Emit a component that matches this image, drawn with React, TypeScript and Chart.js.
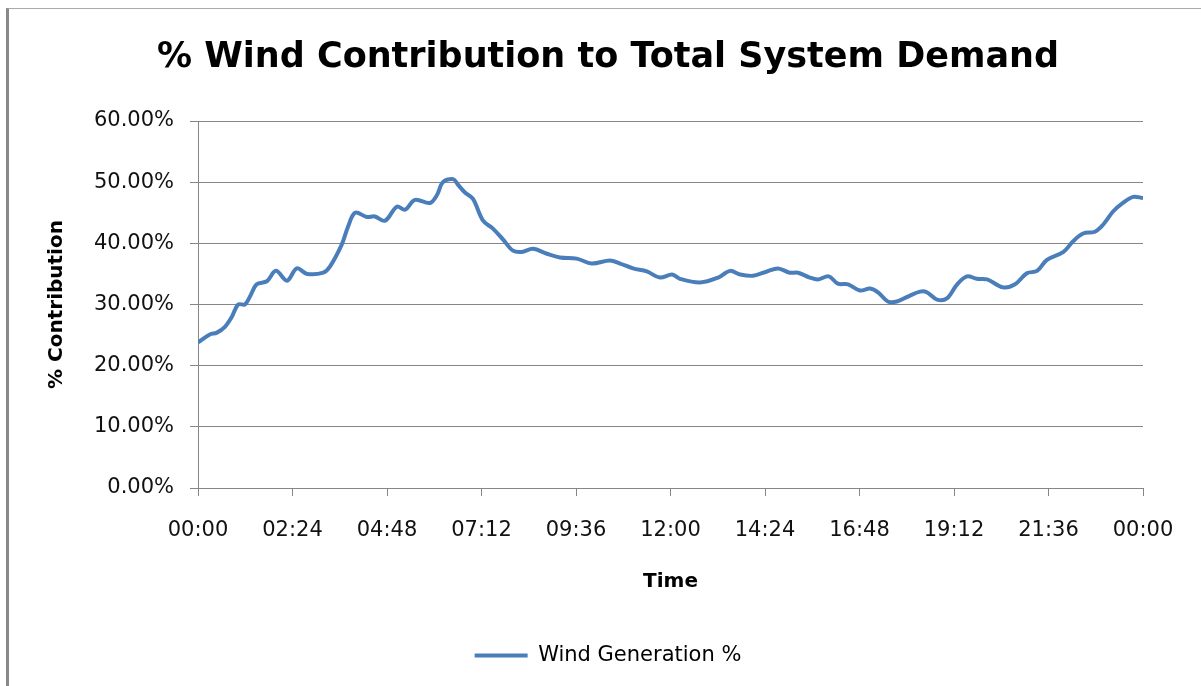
import React, { useEffect, useRef } from "react";
import { Chart, registerables } from "chart.js";

Chart.register(...registerables);

const TITLE = "% Wind Contribution to Total System Demand";
const X_TITLE = "Time";
const Y_TITLE = "% Contribution";
const SERIES_NAME = "Wind Generation %";

// time of day in hours
const TIME_HOURS = [
  0.0, 0.3, 0.48, 0.69, 0.86, 1.02, 1.19, 1.32, 1.49, 1.75, 1.98, 2.26, 2.51, 2.77, 3.18, 3.35,
  3.65, 3.81, 3.99, 4.29, 4.49, 4.75, 5.05, 5.26, 5.51, 5.89, 6.07, 6.22, 6.48, 6.6, 6.78, 6.98,
  7.24, 7.49, 7.75, 8.0, 8.22, 8.51, 8.86, 9.19, 9.62, 10.0, 10.46, 10.72, 11.05, 11.4, 11.73,
  12.04, 12.24, 12.75, 13.21, 13.51, 13.77, 14.1, 14.45, 14.73, 15.03, 15.24, 15.54, 15.75, 16.02,
  16.25, 16.51, 16.81, 17.07, 17.27, 17.52, 17.75, 18.03, 18.34, 18.51, 18.77, 19.02, 19.28, 19.53,
  19.78, 20.04, 20.45, 20.75, 21.05, 21.31, 21.56, 21.98, 22.22, 22.48, 22.78, 22.98, 23.24, 23.49,
  23.75, 24.0,
];

// wind generation as % of total system demand
const WIND_PCT = [
  23.8, 25.1, 25.4, 26.4, 28.0, 30.0, 30.0, 31.3, 33.3, 33.8, 35.5, 33.9, 35.9, 35.0, 35.2, 36.2,
  39.8, 42.7, 45.0, 44.3, 44.4, 43.7, 46.0, 45.5, 47.1, 46.6, 47.9, 50.0, 50.5, 49.6, 48.3, 47.3,
  43.7, 42.4, 40.6, 38.8, 38.6, 39.1, 38.3, 37.7, 37.5, 36.7, 37.2, 36.7, 35.9, 35.4, 34.4,
  34.9, 34.2, 33.6, 34.4, 35.5, 34.9, 34.7, 35.4, 35.9, 35.2, 35.2, 34.4, 34.1, 34.6,
  33.4, 33.3, 32.3, 32.6, 32.0, 30.5, 30.5, 31.3, 32.1, 32.0, 30.8, 31.0, 33.3, 34.6,
  34.2, 34.1, 32.8, 33.3, 35.1, 35.5, 37.3, 38.6, 40.3, 41.6, 41.9, 43.0, 45.2, 46.6,
  47.6, 47.4,
];

const X_MIN_MIN = 0;
const X_MAX_MIN = 1440;
const X_STEP_MIN = 144;
const Y_MIN = 0;
const Y_MAX = 60;
const Y_STEP = 10;

const LINE_COLOR = "#4A7EBB";
const GRID_COLOR = "#868686";
const FONT = "'DejaVu Sans', sans-serif";

function fmtTime(v: number): string {
  const m = Math.round(v) % 1440;
  const h = Math.floor(m / 60);
  const mm = m % 60;
  return String(h).padStart(2, "0") + ":" + String(mm).padStart(2, "0");
}

export default function App() {
  const ref = useRef<HTMLCanvasElement | null>(null);

  useEffect(() => {
    if (!ref.current) return;
    const data = TIME_HOURS.map((t, i) => ({ x: t * 60, y: WIND_PCT[i] }));
    const chart = new Chart(ref.current, {
      type: "line",
      data: {
        datasets: [
          {
            label: SERIES_NAME,
            data,
            borderColor: LINE_COLOR,
            backgroundColor: LINE_COLOR,
            borderWidth: 4,
            pointRadius: 0,
            tension: 0.35,
            fill: false,
          },
        ],
      },
      options: {
        animation: false,
        responsive: false,
        devicePixelRatio: 1,
        layout: { padding: { left: 15, right: 0, top: 0, bottom: 10 } },
        font: { family: FONT },
        plugins: {
          tooltip: { enabled: false },
          title: {
            display: true,
            text: TITLE,
            color: "#000",
            font: { family: FONT, size: 35, weight: "bold" },
            padding: { top: 37, bottom: 42 },
          },
          legend: {
            display: true,
            position: "bottom",
            labels: {
              boxWidth: 53,
              boxHeight: 4,
              color: "#111",
              font: { family: FONT, size: 21 },
              generateLabels: () => [
                {
                  text: SERIES_NAME,
                  fillStyle: LINE_COLOR,
                  strokeStyle: LINE_COLOR,
                  lineWidth: 0,
                  hidden: false,
                  datasetIndex: 0,
                } as any,
              ],
            },
          },
        },
        scales: {
          x: {
            type: "linear",
            min: X_MIN_MIN,
            max: X_MAX_MIN,
            afterFit: (s: any) => {
              s.height = 147;
            },
            afterBuildTicks: (s: any) => {
              const ticks = [];
              for (let v = X_MIN_MIN; v <= X_MAX_MIN; v += X_STEP_MIN) ticks.push({ value: v });
              s.ticks = ticks;
            },
            ticks: {
              stepSize: X_STEP_MIN,
              color: "#111",
              font: { family: FONT, size: 21 },
              padding: 22,
              maxRotation: 0,
              autoSkip: false,
              callback: (v: any) => fmtTime(Number(v)),
            },
            grid: {
              drawOnChartArea: false,
              drawTicks: true,
              tickLength: 8,
              color: GRID_COLOR,
            },
            border: { display: true, color: GRID_COLOR, width: 1 },
            title: {
              display: true,
              text: X_TITLE,
              color: "#000",
              font: { family: FONT, size: 20, weight: "bold" },
              padding: { top: 28, bottom: 41 },
            },
          },
          y: {
            type: "linear",
            position: "left",
            min: Y_MIN,
            max: Y_MAX,
            afterFit: (s: any) => {
              s.width = 183;
            },
            ticks: {
              stepSize: Y_STEP,
              color: "#111",
              font: { family: FONT, size: 21 },
              padding: 16,
              callback: (v: any) => Number(v).toFixed(2) + "%",
            },
            grid: {
              color: GRID_COLOR,
              drawTicks: true,
              tickLength: 8,
              lineWidth: 1,
            },
            border: { display: true, color: GRID_COLOR, width: 1 },
            title: {
              display: true,
              text: Y_TITLE,
              color: "#000",
              font: { family: FONT, size: 20, weight: "bold" },
              padding: { top: 30, bottom: 10 },
            },
          },
          yRight: {
            type: "linear",
            position: "right",
            display: true,
            min: Y_MIN,
            max: Y_MAX,
            afterFit: (s: any) => {
              s.width = 58;
            },
            ticks: { display: false },
            grid: { display: false, drawTicks: false },
            border: { display: false },
          },
        },
      },
    } as any);
    return () => chart.destroy();
  }, []);

  return (
    <div
      style={{
        position: "fixed",
        left: 0,
        top: 0,
        width: 1201,
        height: 686,
        background: "#fff",
        overflow: "hidden",
      }}
    >
      <canvas
        ref={ref}
        width={1201}
        height={686}
        style={{ position: "absolute", left: 0, top: 0, width: 1201, height: 686, display: "block" }}
      />
      <div
        style={{
          position: "absolute",
          left: 6,
          top: 8,
          width: 1201,
          height: 700,
          borderLeft: "3px solid #888",
          borderTop: "1px solid #aaa",
          pointerEvents: "none",
        }}
      />
    </div>
  );
}
